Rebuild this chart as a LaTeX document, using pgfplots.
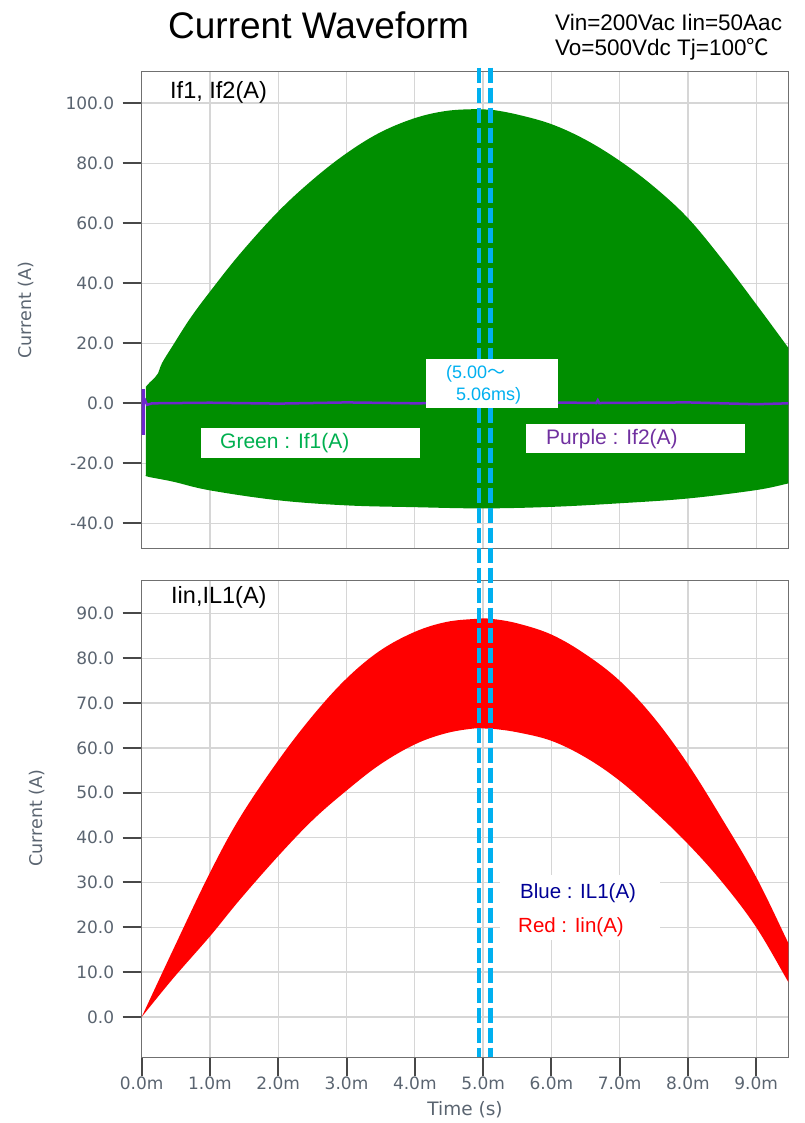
\documentclass[border=0pt]{standalone}
\usepackage{fontspec}
\setmainfont{Liberation Sans}
\newfontfamily\tickfont{DejaVu Sans}
\newfontfamily\cjk{Noto Sans CJK JP}
\usepackage{pgfplots}
\pgfplotsset{compat=1.18}

\definecolor{gridgray}{RGB}{214,214,214}
\definecolor{framegray}{RGB}{112,112,112}
\definecolor{tickdark}{RGB}{72,72,72}
\definecolor{labelgray}{RGB}{90,100,112}
\definecolor{ifgreen}{RGB}{0,142,0}
\definecolor{ifpurple}{RGB}{110,40,205}
\definecolor{cursorblue}{RGB}{0,176,240}
\definecolor{txtgreen}{RGB}{0,176,80}
\definecolor{txtpurple}{RGB}{112,48,160}
\definecolor{txtblue}{RGB}{0,0,150}

\pgfplotsset{
  scopepanel/.style={
    scale only axis, width=646.6bp, height=477bp, anchor=south west,
    xmin=0, xmax=9.47, xtick={0,1,...,9},
    grid=major, major grid style={gridgray, line width=1.3bp},
    axis line style={framegray, line width=1.5bp},
    tick align=outside, major tick length=19bp,
    tick style={tickdark, line width=2bp},
    ytick pos=left, xtick pos=bottom,
    /pgf/number format/assume math mode=true,
    every tick label/.append style={font=\tickfont\fontsize{17bp}{19bp}\selectfont, text=labelgray},
    yticklabel style={xshift=-5bp},
    yticklabel={\pgfmathprintnumber[fixed,fixed zerofill,precision=1]{\tick}},
  }
}

\begin{document}
\begin{tikzpicture}
\path[use as bounding box] (0bp,0bp) rectangle (805bp,-1123bp);

% ---------------- upper panel: If1, If2 ----------------
\begin{axis}[scopepanel, at={(141.7bp,-548.3bp)},
  ymin=-48.3, ymax=110.6, ytick={-40,-20,...,100},
  xticklabels={}, xtick style={draw=none}]
  % If1 switching band: peak envelope out, valley envelope back
  \addplot[fill=ifgreen, draw=none, smooth, tension=0.6] coordinates {
    (0.06,5.5) (0.12,7) (0.19,8.5) (0.24,10) (0.3,13.5)
    (0.46,19.4) (0.71,28.3) (1.0,37.2) (1.44,49.8) (2.0,63.9) (2.51,74.6)
    (3.0,83.3) (3.49,90.2) (4.0,95) (4.46,97.4) (4.9,98.0) (5.12,97.8)
    (5.5,96.2) (6.0,93.0) (6.5,87.8) (7.0,80.8) (7.5,72.2) (8.0,61.7)
    (8.5,48.0) (9.0,33) (9.47,18.5) (9.6,14.5)
    (9.6,-26.2) (9.47,-26.7) (9.0,-28.9) (8.0,-31.7) (7.0,-33.3) (6.0,-34.5)
    (5.0,-35) (4.0,-34.6) (3.0,-34) (2.0,-32.3) (1.0,-29) (0.46,-26.1)
    (0.1,-24.5) (0.06,-24)
  } -- cycle;
  % If2
  \addplot[ifpurple, line width=2.5bp] coordinates {
    (0.02,0) (0.05,1) (0.08,-0.5)
    (0.15,0) (1.0,0.2) (2.0,-0.1) (3.0,0.3) (4.0,0) (5.0,0.2) (6.0,0.3)
    (6.66,0.1) (6.68,1.0) (6.70,0.1) (8.0,0.3) (9.0,-0.3) (9.47,0)
  };
  \addplot[ifpurple, line width=4.5bp] coordinates {(0.02,4.9) (0.02,-10.5)};
  \coordinate (c1t) at (axis cs:4.94,111.8);
  \coordinate (c2t) at (axis cs:5.11,111.8);
\end{axis}

% ---------------- lower panel: Iin, IL1 ----------------
\begin{axis}[scopepanel, at={(141.7bp,-1057.3bp)},
  ymin=-9.0, ymax=97.4, ytick={0,10,...,90},
  xticklabel={\pgfmathprintnumber[fixed,fixed zerofill,precision=1]{\tick}m},
  xticklabel style={yshift=3bp}]
  % Iin ripple band: peak envelope out, valley envelope back
  \addplot[fill=red, draw=none, smooth, tension=0.6] coordinates {
    (0,0) (0.46,15.0) (1.0,32.2) (1.44,44.5) (2.0,57.2) (2.51,67.3)
    (3.0,75.5) (3.49,81.7) (4.0,85.9) (4.46,88.1) (4.9,88.8) (5.12,88.8)
    (5.5,87.8) (6.0,85.3) (6.5,80.9) (7.0,75) (7.5,66.8) (8.0,56.4) (8.5,44.2)
    (9.0,31.2) (9.47,16.5) (9.6,12.5)
    (9.6,4.5) (9.47,7.8) (9.0,20) (8.5,30.1) (8.0,38.6) (7.5,46) (7.0,52.7)
    (6.5,57.9) (6.0,61.6) (5.5,63.5) (5.12,64.3) (4.9,64.4) (4.46,63.3) (4.0,60.8)
    (3.49,56.3) (3.0,50.5) (2.51,44.0) (2.0,35.9) (1.44,26.2) (1.0,18.0)
    (0.46,8.6) (0,0)
  } -- cycle;
  \coordinate (c1b) at (axis cs:4.94,-9.0);
  \coordinate (c2b) at (axis cs:5.11,-9.0);
\end{axis}

% cursor pair
\draw[cursorblue, line width=4.5bp, dash pattern=on 15bp off 5bp] (c1t) -- (c1b);
\draw[cursorblue, line width=4.5bp, dash pattern=on 15bp off 5bp] (c2t) -- (c2b);

% titles and axis labels
\node[anchor=base west, inner sep=0] at (168bp,-38bp)
  {\fontsize{37bp}{40bp}\selectfont Current Waveform};
\node[anchor=base west, inner sep=0] at (555bp,-30bp)
  {\fontsize{22.5bp}{26bp}\selectfont Vin=200Vac Iin=50Aac};
\node[anchor=base west, inner sep=0] at (555bp,-55bp)
  {\fontsize{22.5bp}{26bp}\selectfont Vo=500Vdc Tj=100{\cjk ℃}};

\node[anchor=base west, inner sep=0] at (170bp,-98.3bp)
  {\fontsize{23.5bp}{26bp}\selectfont If1, If2(A)};
\node[anchor=base west, inner sep=0] at (171bp,-603.3bp)
  {\fontsize{23.5bp}{26bp}\selectfont Iin,IL1(A)};

\node[rotate=90, text=labelgray, inner sep=0] at (26bp,-310bp)
  {\tickfont\fontsize{17.5bp}{20bp}\selectfont Current (A)};
\node[rotate=90, text=labelgray, inner sep=0] at (37bp,-818bp)
  {\tickfont\fontsize{17.5bp}{20bp}\selectfont Current (A)};
\node[text=labelgray, inner sep=0] at (465bp,-1110bp)
  {\tickfont\fontsize{18.5bp}{20bp}\selectfont Time (s)};

% annotation boxes
\fill[white] (426bp,-359bp) rectangle (558bp,-408bp);
\node[anchor=west, inner sep=0, text=cursorblue] at (446bp,-374bp)
  {\fontsize{18bp}{20bp}\selectfont (5.00{\cjk ～}};
\node[anchor=west, inner sep=0, text=cursorblue] at (456bp,-396bp)
  {\fontsize{18bp}{20bp}\selectfont 5.06ms)};

\fill[white] (201bp,-428bp) rectangle (420bp,-458bp);
\node[anchor=west, inner sep=0, text=txtgreen] at (220bp,-443bp)
  {\fontsize{21bp}{24bp}\selectfont Green : If1(A)};

\fill[white] (526bp,-424bp) rectangle (745bp,-453bp);
\node[anchor=west, inner sep=0, text=txtpurple] at (546bp,-439bp)
  {\fontsize{21bp}{24bp}\selectfont Purple : If2(A)};

\fill[white] (500bp,-875bp) rectangle (660bp,-940bp);
\node[anchor=west, inner sep=0, text=txtblue] at (520bp,-893bp)
  {\fontsize{20.5bp}{24bp}\selectfont Blue : IL1(A)};
\node[anchor=west, inner sep=0, text=red] at (518bp,-927bp)
  {\fontsize{20.5bp}{24bp}\selectfont Red : Iin(A)};
\end{tikzpicture}
\end{document}
